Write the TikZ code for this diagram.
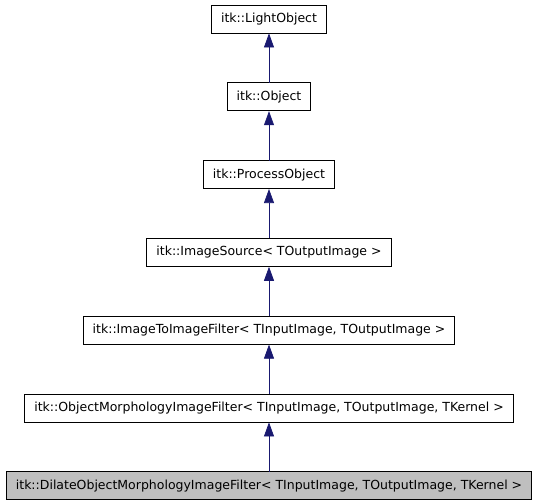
\documentclass[tikz,border=0pt]{standalone}
\usepackage{xcolor}
\usepackage{fontspec}
\setmainfont{DejaVu Sans}
\usepackage{tikz}
\usetikzlibrary{arrows.meta,positioning}
\definecolor{edgeblue}{HTML}{191970}

\begin{document}
\begin{tikzpicture}[x=1pt,y=1pt]
    \tikzset{class node/.style={draw,line width=0.8pt,minimum height=28pt,inner xsep=9.5pt,inner ysep=0pt,outer sep=0pt,font=\fontsize{12.5}{14}\selectfont},
             inherit/.style={draw=edgeblue,line width=0.7pt,-{Triangle[length=14pt,width=10pt]},shorten >=0.4pt}}
    \useasboundingbox (0,0) rectangle (539,-504);
    % Nodes
    \node (light) [class node] at (269,-19) {itk::LightObject};
    \node (object) [class node, below=49.8pt of light] {itk::Object};
    \node (process) [class node, below=49.8pt of object] {itk::ProcessObject};
    \node (source) [class node, below=49.8pt of process] {itk::ImageSource< TOutputImage >};
    \node (im2im) [class node, below=49.8pt of source] {itk::ImageToImageFilter< TInputImage, TOutputImage >};
    \node (objmorph) [class node, below=49.8pt of im2im] {itk::ObjectMorphologyImageFilter< TInputImage, TOutputImage, TKernel >};
    \node (dilate) [class node, fill=black!25, below=49.8pt of objmorph] {itk::DilateObjectMorphologyImageFilter< TInputImage, TOutputImage, TKernel >};

    % Arrows
    \draw [inherit] (object) to (light);
    \draw [inherit] (process) to (object);
    \draw [inherit] (source) to (process);
    \draw [inherit] (im2im) to (source);
    \draw [inherit] (objmorph) to (im2im);
    \draw [inherit] (dilate) to (objmorph);
\end{tikzpicture}
\end{document}
